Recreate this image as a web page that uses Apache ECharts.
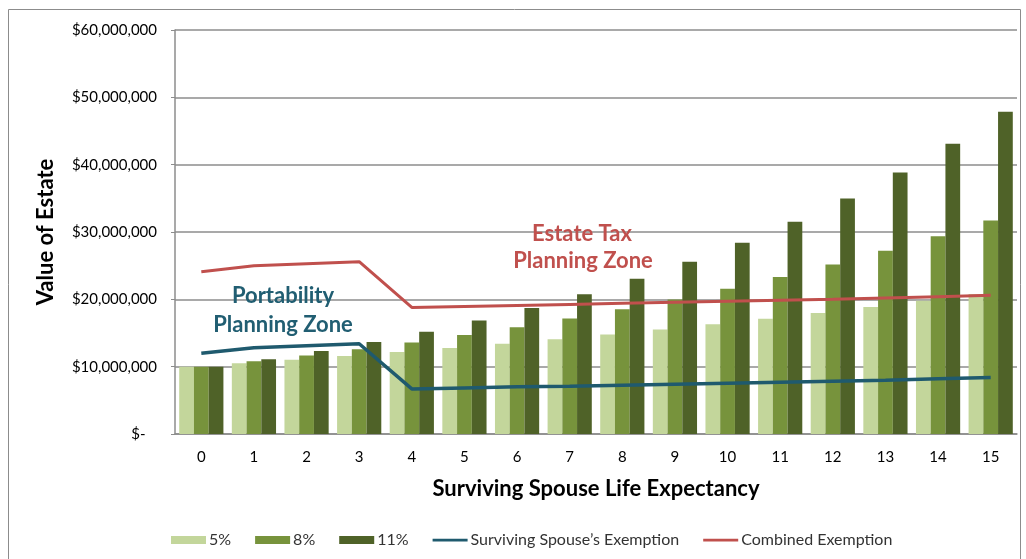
<!DOCTYPE html>
<html><head><meta charset="utf-8">
<script src="https://cdn.jsdelivr.net/npm/echarts@6/dist/echarts.min.js"></script>
<style>html,body{margin:0;padding:0;background:#fff}#c{width:1026px;height:559px}</style>
</head><body><div id="c"></div>
<script>
const categories = ['0','1','2','3','4','5','6','7','8','9','10','11','12','13','14','15'];
const growth5 = [10.0,10.5,11.03,11.58,12.16,12.76,13.4,14.07,14.77,15.51,16.29,17.1,17.96,18.86,19.8,20.79];
const growth8 = [10.0,10.8,11.66,12.6,13.6,14.69,15.87,17.14,18.51,19.99,21.59,23.32,25.18,27.2,29.37,31.72];
const growth11 = [10.0,11.1,12.32,13.68,15.18,16.85,18.7,20.76,23.04,25.58,28.39,31.52,34.98,38.83,43.1,47.85];
const spouseExemption = [12.0,12.8,13.1,13.4,6.7,6.85,7.0,7.1,7.25,7.4,7.55,7.7,7.85,8.0,8.2,8.4];
const combinedExemption = [24.1,25.0,25.3,25.6,18.8,18.95,19.1,19.25,19.4,19.55,19.7,19.85,20.0,20.2,20.4,20.6];
const yTicks = [0,10,20,30,40,50,60];

const M = 1000000;
const toDollars = a => a.map(v => Math.round(v * M));
const font = 'Lato, "Open Sans", sans-serif';
const lineIcon = 'path://M0,0 L0.01,0 L0,0.01 Z M0,2.8 L35,2.8 L35,5.4 L0,5.4 Z M35,8 L34.99,8 L35,7.99 Z';

const chart = echarts.init(document.getElementById('c'), null, {renderer:'canvas'});
chart.setOption({
  backgroundColor:'#fff',
  animation:false,
  textStyle:{fontFamily:font},
  grid:{left:175,right:9,top:30,bottom:125},
  legend:{
    top:527, left:166, itemGap:24, itemWidth:35, itemHeight:8,
    textStyle:{fontSize:16,color:'#333',fontFamily:font,padding:[0,0,0,-2]},
    data:[
      {name:'5%',icon:'rect'},{name:'8%',icon:'rect'},{name:'11%',icon:'rect'},
      {name:'Surviving Spouse\u2019s Exemption',icon:lineIcon},{name:'Combined Exemption',icon:lineIcon}
    ]
  },
  xAxis:{
    type:'category', data:categories,
    name:'Surviving Spouse Life Expectancy', nameLocation:'middle', nameGap:44,
    nameTextStyle:{fontSize:22,fontWeight:'bold',color:'#000',fontFamily:font},
    axisLine:{lineStyle:{color:'#8c8c8c',width:1.5}},
    axisTick:{show:false},
    axisLabel:{fontSize:15,color:'#000',margin:16}
  },
  yAxis:{
    type:'value', min:0, max:yTicks[yTicks.length-1]*M, interval:10*M,
    name:'Value of Estate', nameLocation:'middle', nameGap:118, nameRotate:90,
    nameTextStyle:{fontSize:22,fontWeight:'bold',color:'#000',fontFamily:font},
    axisLine:{show:true,lineStyle:{color:'#8c8c8c',width:1.5}},
    axisTick:{show:true,length:4,lineStyle:{color:'#8c8c8c'}},
    splitLine:{lineStyle:{color:'#8c8c8c',width:1.5}},
    axisLabel:{fontSize:15,color:'#000',margin:18,
      formatter:v => v===0 ? '$-   ' : '$' + v.toLocaleString('en-US')}
  },
  series:[
    {name:'5%',type:'bar',data:toDollars(growth5),barGap:'0%',barCategoryGap:'16%',itemStyle:{color:'#c3d69b'}},
    {name:'8%',type:'bar',data:toDollars(growth8),itemStyle:{color:'#77933c'}},
    {name:'11%',type:'bar',data:toDollars(growth11),itemStyle:{color:'#4f6228'}},
    {name:'Surviving Spouse\u2019s Exemption',type:'line',data:toDollars(spouseExemption),symbol:'none',
      lineStyle:{color:'#1f5a6e',width:3.5},itemStyle:{color:'#1f5a6e'}},
    {name:'Combined Exemption',type:'line',data:toDollars(combinedExemption),symbol:'none',
      lineStyle:{color:'#c0504d',width:3},itemStyle:{color:'#c0504d'}}
  ],
  graphic:[
    {type:'rect',shape:{x:8.5,y:9.5,width:1012,height:600},style:{fill:'none',stroke:'#8c8c8c',lineWidth:1},silent:true},
    {type:'text',x:283,y:296,style:{text:'Portability',fontSize:22,fontWeight:'bold',fill:'#215e72',fontFamily:font,align:'center',verticalAlign:'middle'},z:10},
    {type:'text',x:283,y:325,style:{text:'Planning Zone',fontSize:22,fontWeight:'bold',fill:'#215e72',fontFamily:font,align:'center',verticalAlign:'middle'},z:10},
    {type:'text',x:582,y:234,style:{text:'Estate Tax',fontSize:22,fontWeight:'bold',fill:'#c0504d',fontFamily:font,align:'center',verticalAlign:'middle'},z:10},
    {type:'text',x:583,y:261,style:{text:'Planning Zone',fontSize:22,fontWeight:'bold',fill:'#c0504d',fontFamily:font,align:'center',verticalAlign:'middle'},z:10}
  ]
});
</script></body></html>
